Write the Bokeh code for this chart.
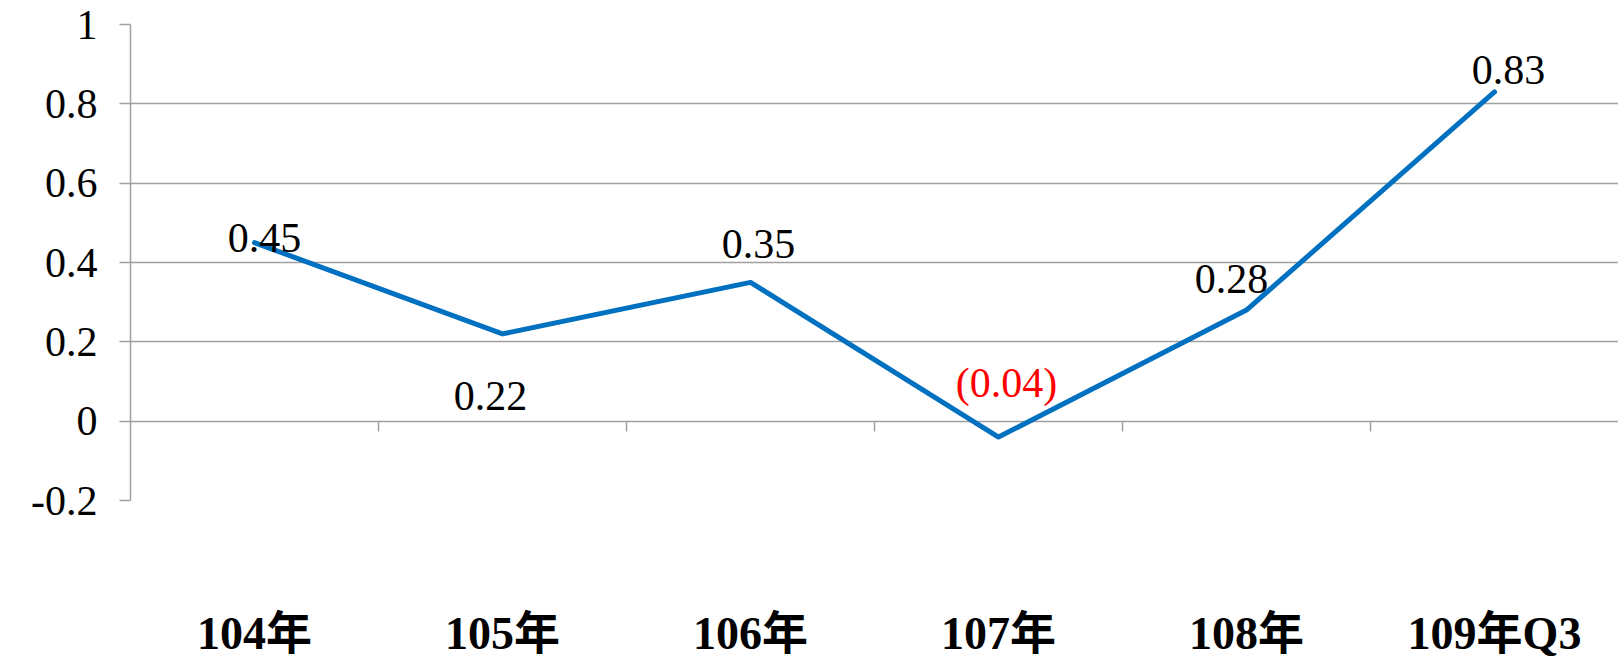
from bokeh.plotting import figure
from bokeh.models import FactorRange, Range1d, FixedTicker, ColumnDataSource
from bokeh.embed import file_html
from bokeh.resources import INLINE

# ---- data ----
categories = ["104年", "105年", "106年", "107年", "108年", "109年Q3"]
eps = [0.45, 0.22, 0.35, -0.04, 0.28, 0.83]
y_ticks = [-0.2, 0, 0.2, 0.4, 0.6, 0.8, 1.0]
y_tick_labels = ["-0.2", "0", "0.2", "0.4", "0.6", "0.8", "1"]

# ---- derived label texts / styles ----
label_text = [f"{v:.2f}" if v >= 0 else f"({abs(v):.2f})" for v in eps]
label_color = ["#000000" if v >= 0 else "#FF0000" for v in eps]
# pixel offsets of each data label from its point (style, not data)
label_dx = [10, -12, 8, 8, -15, 14]
label_dy = [-5, 62, -38, -54, -31, -22]

SERIF = "'Liberation Serif', 'Noto Sans CJK TC', serif"
GRID = "#a0a0a0"

p = figure(
    width=1618, height=661,
    x_range=FactorRange(*categories, range_padding=0),
    y_range=Range1d(-0.2, 1.0),
    output_backend="svg", toolbar_location=None,
    min_border_left=130, min_border_right=0,
    min_border_top=24, min_border_bottom=159,
)
p.outline_line_color = None
p.background_fill_color = "white"
p.border_fill_color = "white"

# grid
p.xgrid.visible = False
p.ygrid.ticker = FixedTicker(ticks=y_ticks)
p.ygrid.grid_line_color = GRID
p.ygrid.grid_line_width = 1.5

# y axis
p.yaxis.ticker = FixedTicker(ticks=y_ticks)
p.yaxis.major_label_overrides = {t: s for t, s in zip(y_ticks, y_tick_labels)}
p.yaxis.axis_line_color = GRID
p.yaxis.axis_line_width = 1.5
p.yaxis.major_tick_line_color = GRID
p.yaxis.major_tick_line_width = 1.5
p.yaxis.major_tick_out = 11
p.yaxis.major_tick_in = 0
p.yaxis.minor_tick_line_color = None
p.yaxis.major_label_text_font = SERIF
p.yaxis.major_label_text_font_size = "42px"
p.yaxis.major_label_text_color = "#000000"
p.yaxis.major_label_standoff = 22

# x axis (labels only, at bottom)
p.xaxis.axis_line_color = None
p.xaxis.major_tick_line_color = None
p.xaxis.minor_tick_line_color = None
p.xaxis.major_label_text_font = SERIF
p.xaxis.major_label_text_font_style = "bold"
p.xaxis.major_label_text_font_size = "46px"
p.xaxis.major_label_text_color = "#000000"
p.xaxis.major_label_standoff = 101

# category boundary ticks on the zero line
bounds = list(range(1, len(categories)))
p.segment(x0=bounds, y0=[0] * len(bounds), x1=bounds, y1=[-0.026] * len(bounds),
          line_color=GRID, line_width=1.5)

# series line
src = ColumnDataSource(dict(x=categories, y=eps, t=label_text, c=label_color,
                            dx=label_dx, dy=label_dy))
p.line("x", "y", source=src, line_color="#0070C0", line_width=5,
       line_join="round", line_cap="round")

# data labels
p.text("x", "y", text="t", source=src, text_color="c",
       x_offset="dx", y_offset="dy",
       text_align="center", text_baseline="middle",
       text_font_size="42px", text_font={"value": SERIF})

open("out.html", "w").write(file_html(p, INLINE))
